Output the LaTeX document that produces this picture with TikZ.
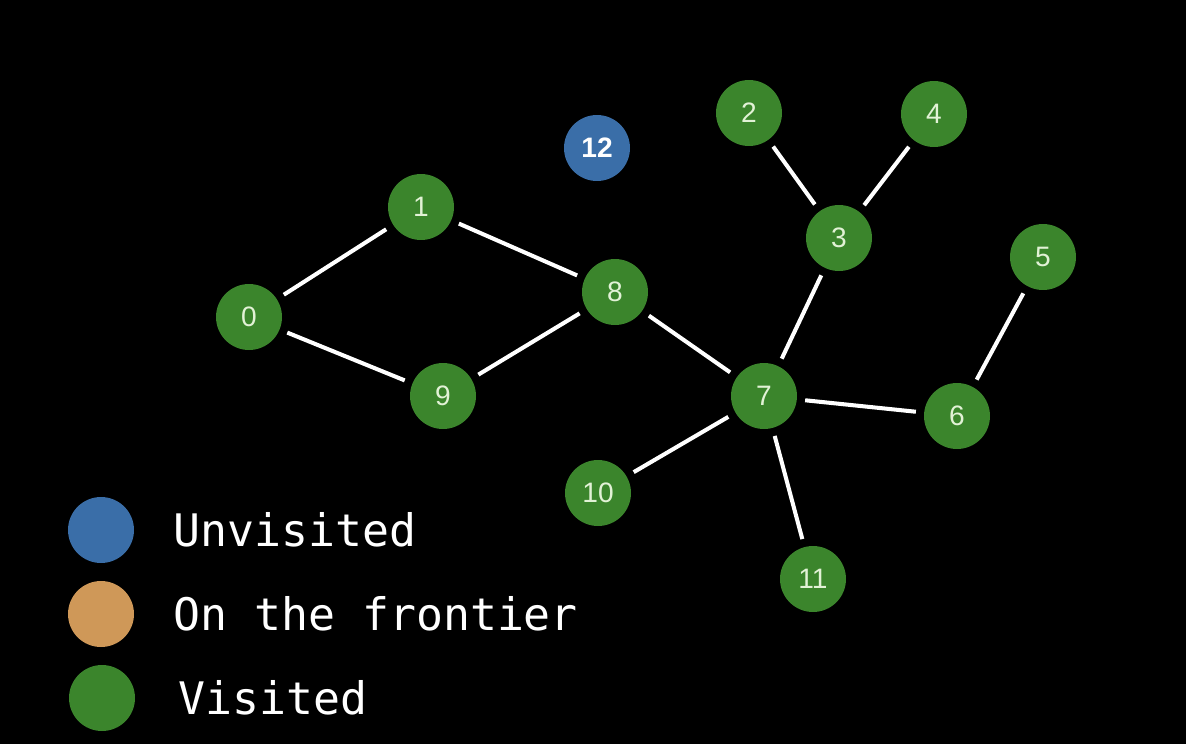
\documentclass[tikz,border=0pt]{standalone}
\usepackage{fontspec}
\setmainfont{Liberation Sans}
\newfontfamily\legendfont{DejaVu Sans Mono}
\usetikzlibrary{positioning}

\definecolor{visitedgreen}{HTML}{3B852C}
\definecolor{unvisitedblue}{HTML}{3A6EA8}
\definecolor{frontierorange}{HTML}{CF9858}
\definecolor{numgreen}{HTML}{E2F2D6}

\begin{document}
\begin{tikzpicture}[
    x=0.02cm, y=-0.02cm,
    vert/.style={circle, minimum size=1.32cm, inner sep=0pt, font=\fontsize{16}{16}\selectfont},
    visited/.style={vert, fill=visitedgreen, text=numgreen},
    unvisited/.style={vert, fill=unvisitedblue, text=white, font=\fontsize{16}{16}\selectfont\bfseries},
    edge/.style={draw=white, line width=2.3pt, shorten <=0.16cm, shorten >=0.16cm},
    keytext/.style={anchor=west, text=white, inner sep=0pt, font=\legendfont\fontsize{25.5}{25.5}\selectfont}
]
\fill[black] (0,0) rectangle (1186,744);

% graph
\node[visited] (n0) at (249,317) {0};
\node[visited] (n1) at (421,207) {1};
\node[visited] (n2) at (749,113) {2};
\node[visited] (n3) at (839,238) {3};
\node[visited] (n4) at (934,114) {4};
\node[visited] (n5) at (1043,257) {5};
\node[visited] (n6) at (957,416) {6};
\node[visited] (n7) at (764,396) {7};
\node[visited] (n8) at (615,292) {8};
\node[visited] (n9) at (443,396) {9};
\node[visited] (n10) at (598,493) {10};
\node[visited] (n11) at (813,579) {11};
\node[unvisited] (n12) at (597,148) {12};

\draw[edge] (n0) -- (n1);
\draw[edge] (n0) -- (n9);
\draw[edge] (n1) -- (n8);
\draw[edge] (n9) -- (n8);
\draw[edge] (n8) -- (n7);
\draw[edge] (n7) -- (n3);
\draw[edge] (n3) -- (n2);
\draw[edge] (n3) -- (n4);
\draw[edge] (n7) -- (n6);
\draw[edge] (n6) -- (n5);
\draw[edge] (n7) -- (n10);
\draw[edge] (n7) -- (n11);

% legend
\node[vert, fill=unvisitedblue] (kblue) at (101,530) {};
\node[vert, fill=frontierorange] (korange) at (101,614) {};
\node[vert, fill=visitedgreen] (kgreen) at (102,698) {};
\node[keytext] (tblue) at (173,530) {Unvisited};
\node[keytext] (torange) at (173,614) {On the frontier};
\node[keytext] (tgreen) at (178,698) {Visited};
\end{tikzpicture}
\end{document}
